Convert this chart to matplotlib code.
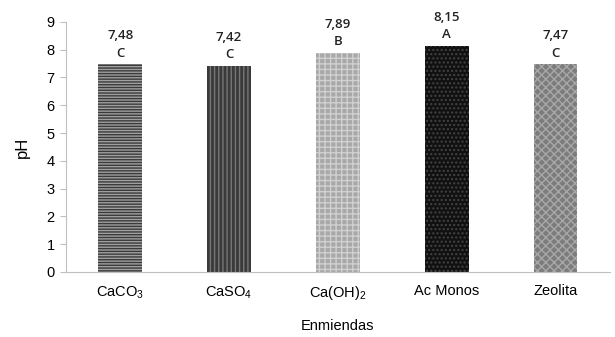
import matplotlib
matplotlib.use("Agg")
import matplotlib.pyplot as plt

plt.rcParams['font.family'] = ['Liberation Sans', 'DejaVu Sans']
plt.rcParams['mathtext.default'] = 'regular'
plt.rcParams['hatch.linewidth'] = 1.0

# data
enmiendas = ['CaCO$_3$', 'CaSO$_4$', 'Ca(OH)$_2$', 'Ac Monos', 'Zeolita']
ph = [7.48, 7.42, 7.89, 8.15, 7.47]
etiquetas = ['7,48', '7,42', '7,89', '8,15', '7,47']
letras = ['C', 'C', 'B', 'A', 'C']

# estilos de relleno (imitan las texturas del original)
colores = ['#a0a0a0', '#3a3a3a', '#a8a8a8', '#111111', '#7c7c7c']
tramas = ['------', '||||', '+++', '....', 'xxxx']
trama_col = ['#3a3a3a', '#777777', '#d0d0d0', '#444444', '#a8a8a8']

fig = plt.figure(figsize=(6.15, 3.37), dpi=100)
ax = fig.add_axes([0.107, 0.193, 0.885, 0.742])

x = range(len(enmiendas))
for i in x:
    ax.bar(i, ph[i], width=0.4, color=colores[i], hatch=tramas[i],
           edgecolor=trama_col[i], linewidth=0)
    ax.annotate(letras[i], (i, ph[i]), xytext=(0, 8), textcoords='offset points',
                ha='center', va='center', fontsize=9.5, family='Open Sans',
                weight='semibold', color='#222222')
    ax.annotate(etiquetas[i], (i, ph[i]), xytext=(0, 20.5), textcoords='offset points',
                ha='center', va='center', fontsize=9.5, family='Open Sans',
                weight='semibold', color='#222222')

ax.set_xlim(-0.5, 4.5)
ax.set_ylim(0, 9)
ax.set_yticks(range(10))
ax.set_xticks(list(x))
ax.set_xticklabels(enmiendas, fontsize=10.5)
ax.tick_params(axis='y', labelsize=10.5, length=4, color='#bfbfbf', pad=4)
ax.tick_params(axis='x', length=0, pad=9)
for s in ['top', 'right']:
    ax.spines[s].set_visible(False)
for s in ['left', 'bottom']:
    ax.spines[s].set_color('#bfbfbf')
ax.set_ylabel('pH', fontsize=12, labelpad=12)
ax.set_xlabel('Enmiendas', fontsize=10.5, labelpad=12)

fig.savefig('out.png', dpi=100)
